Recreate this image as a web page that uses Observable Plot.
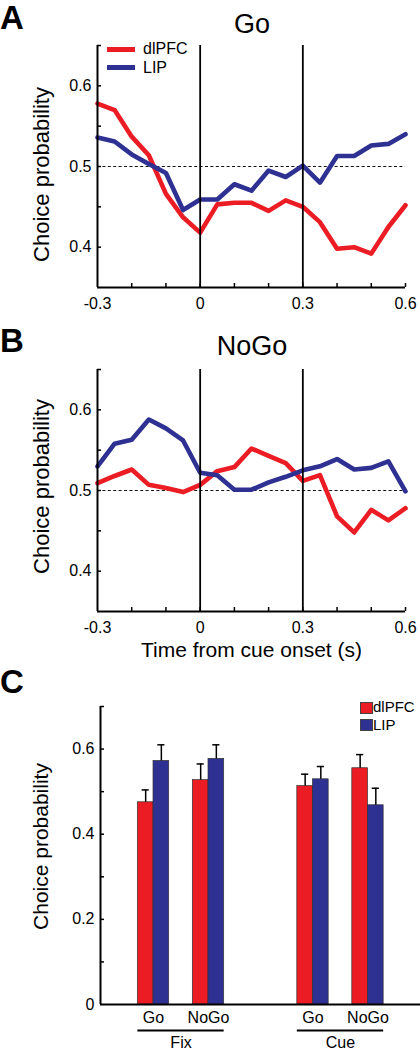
<!DOCTYPE html>
<html>
<head>
<meta charset="utf-8">
<script src="https://cdn.jsdelivr.net/npm/d3@7"></script>
<script src="https://cdn.jsdelivr.net/npm/@observablehq/plot@0.6"></script>
<style>
  html, body { margin: 0; padding: 0; background: #fff; }
  #root { position: relative; width: 420px; height: 1050px; overflow: hidden; font-family: "Liberation Sans", Arial, sans-serif; color: #000; }
  .abs { position: absolute; white-space: nowrap; }
  .letter { font-weight: bold; font-size: 33px; line-height: 30px; }
  .title { font-size: 27px; line-height: 27px; text-align: center; width: 200px; }
  .leg { font-size: 16px; line-height: 16px; }
  .legc { font-size: 15px; line-height: 14px; }
</style>
</head>
<body>
<div id="root"></div>
<script>
// ---------- data ----------
const time = [-0.3, -0.25, -0.2, -0.15, -0.1, -0.05, 0, 0.05, 0.1, 0.15, 0.2, 0.25, 0.3, 0.35, 0.4, 0.45, 0.5, 0.55, 0.6];
const goDlpfc   = [0.578, 0.570, 0.537, 0.514, 0.466, 0.437, 0.418, 0.453, 0.455, 0.455, 0.445, 0.458, 0.450, 0.431, 0.398, 0.400, 0.392, 0.425, 0.452];
const goLip     = [0.536, 0.531, 0.515, 0.503, 0.492, 0.446, 0.459, 0.459, 0.478, 0.470, 0.495, 0.487, 0.501, 0.480, 0.513, 0.513, 0.526, 0.528, 0.540];
const nogoDlpfc = [0.509, 0.518, 0.526, 0.507, 0.503, 0.498, 0.507, 0.524, 0.529, 0.552, 0.543, 0.534, 0.512, 0.519, 0.468, 0.448, 0.476, 0.463, 0.478];
const nogoLip   = [0.530, 0.558, 0.563, 0.588, 0.577, 0.562, 0.522, 0.519, 0.501, 0.501, 0.510, 0.517, 0.525, 0.530, 0.539, 0.526, 0.528, 0.536, 0.499];
const seriesNames = ["dlPFC", "LIP"];
const seriesColors = ["#ec1c24", "#2e3192"];
const eventTimes = [0, 0.3];
const xTickLabels = [-0.3, 0, 0.3, 0.6];
const xMinorTicks = [-0.2, -0.1, 0, 0.1, 0.2, 0.3, 0.4, 0.5, 0.6];
const yTickLabels = [0.4, 0.5, 0.6];
const yMinorTicks = [0.4, 0.45, 0.5, 0.55, 0.6, 0.65];
const chanceLevel = 0.5;

const epochs = ["Fix", "Cue"];
const conditions = ["Go", "NoGo"];
// order: Fix-Go, Fix-NoGo, Cue-Go, Cue-NoGo
const barDlpfc = [0.475, 0.527, 0.513, 0.555];
const barLip   = [0.572, 0.577, 0.529, 0.468];
const errDlpfc = [0.029, 0.038, 0.028, 0.032];
const errLip   = [0.038, 0.033, 0.030, 0.040];
const barYTickLabels = [0, 0.2, 0.4, 0.6];
const barYMinorTicks = [0.1, 0.2, 0.3, 0.4, 0.5, 0.6, 0.7];

// ---------- layout helpers ----------
const W = 420;
const FONT = "'Liberation Sans', Arial, sans-serif";
const root = document.getElementById("root");

function place(el, top, left = 0) {
  const d = document.createElement("div");
  d.className = "abs";
  d.style.top = top + "px";
  d.style.left = left + "px";
  d.appendChild(el);
  root.appendChild(d);
  return d;
}
function label(text, cls, top, left, extra = {}) {
  const d = document.createElement("div");
  d.className = "abs " + cls;
  d.textContent = text;
  d.style.top = top + "px";
  d.style.left = left + "px";
  Object.assign(d.style, extra);
  root.appendChild(d);
  return d;
}
function swatch(top, left, w, h, color, extra = {}) {
  const d = document.createElement("div");
  d.className = "abs";
  Object.assign(d.style, {top: top + "px", left: left + "px", width: w + "px", height: h + "px", background: color}, extra);
  root.appendChild(d);
}

// ---------- line panels ----------
function linePanel(dlpfc, lip, {height, marginTop, marginBottom, xLabel, yLabelDy}) {
  const marginLeft = 97, marginRight = 15;
  const frameW = W - marginLeft - marginRight;
  const frameH = height - marginTop - marginBottom;
  const rows = [];
  time.forEach((t, i) => {
    rows.push({t, v: dlpfc[i], s: seriesNames[0]});
    rows.push({t, v: lip[i], s: seriesNames[1]});
  });
  const marks = [
    Plot.ruleY([chanceLevel], {stroke: "#111", strokeWidth: 1, strokeDasharray: "3,2.4"}),
    Plot.line(rows, {x: "t", y: "v", z: "s", stroke: "s", strokeWidth: 4.6, strokeLinejoin: "round"}),
    Plot.ruleX(eventTimes, {stroke: "#000", strokeWidth: 1.8}),
    Plot.ruleX(xMinorTicks, {stroke: "#000", strokeWidth: 1.5, insetTop: frameH - 4}),
    Plot.ruleY(yMinorTicks, {stroke: "#000", strokeWidth: 1.5, insetRight: frameW - 4}),
    Plot.ruleX([time[0]], {stroke: "#000", strokeWidth: 2}),
    Plot.ruleY([0.35], {stroke: "#000", strokeWidth: 2}),
    Plot.axisX(xTickLabels, {tickSize: 0, tickPadding: 10, fontSize: 16, label: null, tickFormat: d => String(d)}),
    Plot.axisY(yTickLabels, {tickSize: 0, tickPadding: 6, fontSize: 16, label: null, tickFormat: d => String(d)}),
    Plot.text(["Choice probability"], {text: d => d, frameAnchor: "left", textAnchor: "middle", lineAnchor: "middle", rotate: -90, dx: -56, dy: yLabelDy, fontSize: 22})
  ];
  if (xLabel) marks.push(Plot.text([xLabel], {text: d => d, frameAnchor: "bottom", textAnchor: "middle", lineAnchor: "middle", dy: 39, fontSize: 21}));
  return Plot.plot({
    width: W, height, marginTop, marginBottom, marginLeft, marginRight,
    x: {domain: [-0.3, 0.6], axis: null},
    y: {domain: [0.35, 0.65], axis: null},
    color: {domain: seriesNames, range: seriesColors},
    style: {fontFamily: FONT, fontSize: "16px", color: "#000", background: "transparent", overflow: "visible"},
    marks
  });
}

place(linePanel(goDlpfc, goLip, {height: 315, marginTop: 45, marginBottom: 28, yLabelDy: 8}), 0);
place(linePanel(nogoDlpfc, nogoLip, {height: 340, marginTop: 45, marginBottom: 53, xLabel: "Time from cue onset (s)", yLabelDy: -4}), 324);

// ---------- bar panel ----------
(function () {
  const height = 370, marginTop = 26, marginBottom = 46, marginLeft = 100, marginRight = 0;
  const frameW = W - marginLeft - marginRight;
  const epochGap = 2.9, bw = 0.285, cap = 0.065;
  const pos = (e, c) => e * epochGap + c;
  const xDomain = [-0.964, 4.855];
  const bars = [];
  epochs.forEach((ep, e) => conditions.forEach((cond, c) => {
    const k = e * conditions.length + c;
    const p = pos(e, c);
    bars.push({ep, cond, s: seriesNames[0], v: barDlpfc[k], err: errDlpfc[k], x1: p - bw, x2: p});
    bars.push({ep, cond, s: seriesNames[1], v: barLip[k], err: errLip[k], x1: p, x2: p + bw});
  }));
  const condRows = [];
  epochs.forEach((ep, e) => conditions.forEach((cond, c) => condRows.push({cond, p: pos(e, c)})));
  const epochRows = epochs.map((ep, e) => ({ep, a: pos(e, 0) - bw, b: pos(e, conditions.length - 1) + bw, m: pos(e, (conditions.length - 1) / 2)}));
  const mid = d => (d.x1 + d.x2) / 2;
  const svg = Plot.plot({
    width: W, height, marginTop, marginBottom, marginLeft, marginRight,
    x: {domain: xDomain, axis: null},
    y: {domain: [0, 0.7], axis: null},
    color: {domain: seriesNames, range: seriesColors},
    style: {fontFamily: FONT, fontSize: "16px", color: "#000", background: "transparent", overflow: "visible"},
    marks: [
      Plot.rectY(bars, {x1: "x1", x2: "x2", y1: 0, y2: "v", fill: "s", stroke: "#333", strokeWidth: 0.7}),
      Plot.ruleX(bars, {x: mid, y1: "v", y2: d => d.v + d.err, stroke: "#000", strokeWidth: 1.5}),
      Plot.ruleY(bars, {y: d => d.v + d.err, x1: d => mid(d) - cap, x2: d => mid(d) + cap, stroke: "#000", strokeWidth: 1.5}),
      Plot.ruleY(barYMinorTicks, {stroke: "#000", strokeWidth: 1.5, insetRight: frameW - 4}),
      Plot.ruleX([xDomain[0]], {stroke: "#000", strokeWidth: 2}),
      Plot.ruleY([0], {stroke: "#000", strokeWidth: 2}),
      Plot.axisY(barYTickLabels, {tickSize: 0, tickPadding: 6, fontSize: 16, label: null, tickFormat: d => String(d)}),
      Plot.text(condRows, {x: "p", y: 0, dy: 13, text: "cond", fontSize: 16, lineAnchor: "middle"}),
      Plot.ruleY(epochRows, {y: 0, x1: "a", x2: "b", dy: 26, stroke: "#000", strokeWidth: 2}),
      Plot.text(epochRows, {x: "m", y: 0, dy: 38, text: "ep", fontSize: 16, lineAnchor: "middle"}),
      Plot.text(["Choice probability"], {text: d => d, frameAnchor: "left", textAnchor: "middle", lineAnchor: "middle", rotate: -90, dx: -59, dy: -9, fontSize: 21})
    ]
  });
  place(svg, 680);
})();

// ---------- titles, panel letters, legends ----------
label("A", "letter", 3, 0);
label("B", "letter", 325.5, 0);
label("C", "letter", 666.5, 0);
label("Go", "title", 10.5, 152);
label("NoGo", "title", 332.5, 152);

// legend A
swatch(46.5, 107, 28, 5, seriesColors[0]);
swatch(65, 107, 28, 5, seriesColors[1]);
label(seriesNames[0], "leg", 41, 143);
label(seriesNames[1], "leg", 60, 143);

// legend C
swatch(702, 360, 11, 10, seriesColors[0], {border: "0.7px solid #444"});
swatch(719, 360, 11, 10, seriesColors[1], {border: "0.7px solid #444"});
label(seriesNames[0], "legc", 700, 373);
label(seriesNames[1], "legc", 717.5, 373);
</script>
</body>
</html>
